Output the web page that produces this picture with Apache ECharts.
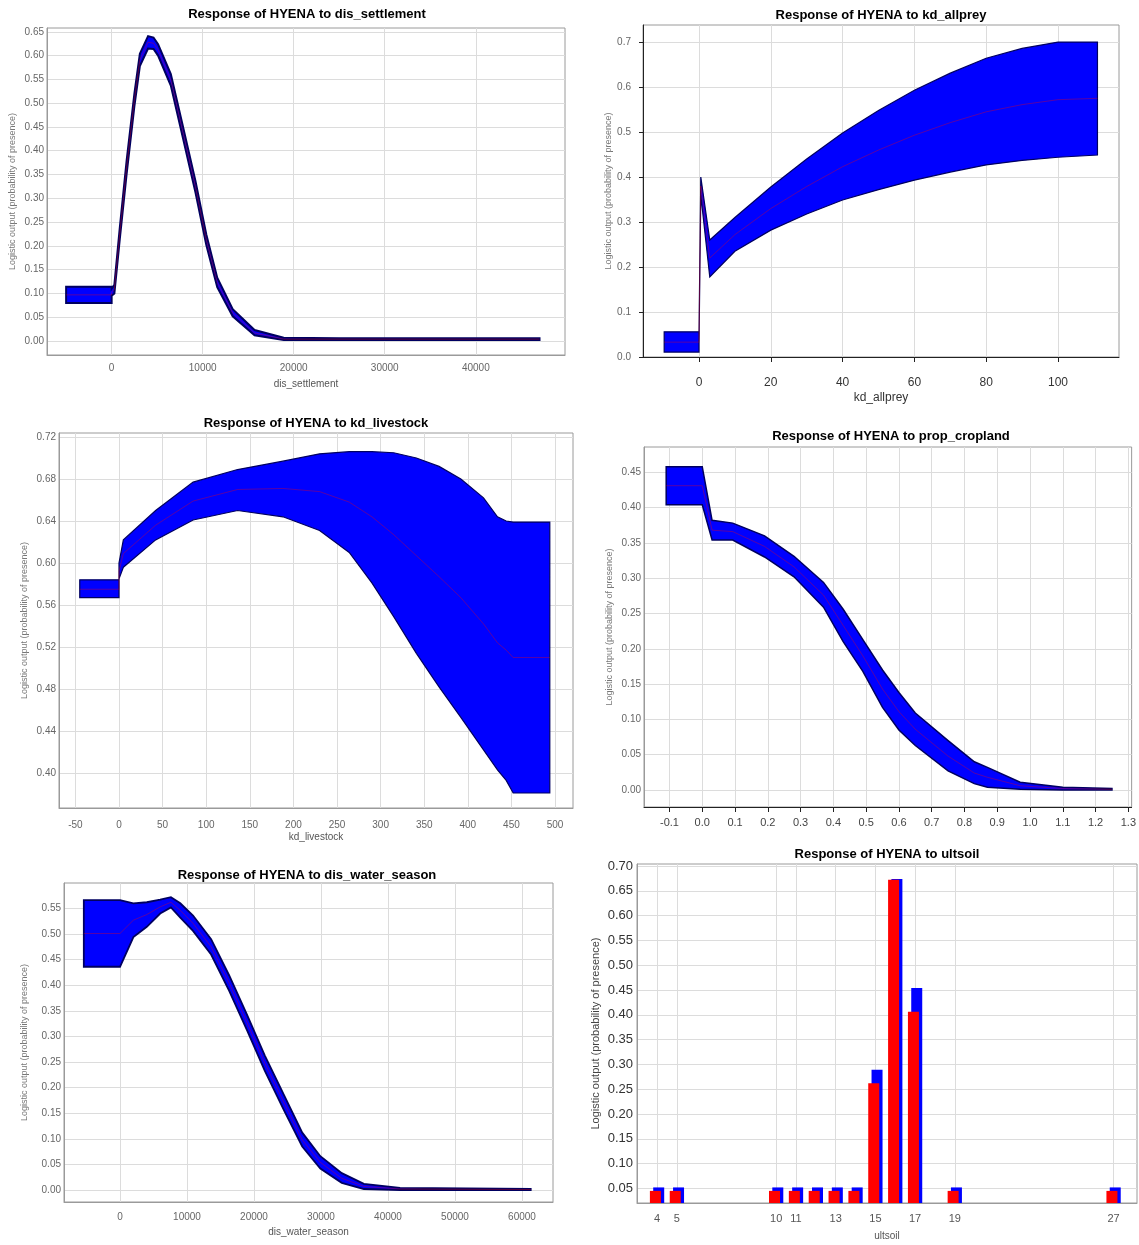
<!DOCTYPE html>
<html><head><meta charset="utf-8">
<script src="https://cdn.jsdelivr.net/npm/echarts@6/dist/echarts.min.js"></script>
<style>html,body{margin:0;padding:0;background:#fff}#c{width:1139px;height:1245px}</style>
</head><body><div id="c"></div>
<script>
// ---------- Panel 1: dis_settlement ----------
var p1X     = [-5000, 0, 0, 300, 900, 1650, 2500, 3100, 4000, 4600, 5100, 6500, 7700, 9200, 10400, 11600, 13300, 15700, 18900, 25000, 47000];
var p1Lower = [0.080, 0.080, 0.095, 0.100, 0.215, 0.352, 0.494, 0.578, 0.615, 0.614, 0.600, 0.537, 0.438, 0.313, 0.202, 0.113, 0.052, 0.012, 0.002, 0.002, 0.002];
var p1Upper = [0.114, 0.114, 0.110, 0.118, 0.239, 0.380, 0.520, 0.604, 0.641, 0.638, 0.624, 0.561, 0.462, 0.337, 0.224, 0.133, 0.067, 0.023, 0.007, 0.006, 0.006];
var p1Mean  = [0.097, 0.097, 0.102, 0.109, 0.227, 0.366, 0.507, 0.591, 0.628, 0.626, 0.612, 0.549, 0.450, 0.325, 0.213, 0.123, 0.059, 0.017, 0.004, 0.004, 0.004];
var p1XTicks = [0, 10000, 20000, 30000, 40000];
var p1YTicks = [0, 0.05, 0.10, 0.15, 0.20, 0.25, 0.30, 0.35, 0.40, 0.45, 0.50, 0.55, 0.60, 0.65];

// ---------- Panel 2: kd_allprey ----------
var p2X     = [-9.7, 0, 0, 0.5, 3, 10, 20, 30, 40, 50, 60, 70, 80, 90, 100, 111];
var p2Lower = [0.011, 0.011, 0.030, 0.360, 0.178, 0.235, 0.282, 0.318, 0.349, 0.372, 0.393, 0.411, 0.427, 0.437, 0.444, 0.449];
var p2Upper = [0.056, 0.056, 0.050, 0.400, 0.260, 0.310, 0.378, 0.440, 0.498, 0.548, 0.593, 0.631, 0.664, 0.686, 0.700, 0.700];
var p2Mean  = [0.033, 0.033, 0.040, 0.380, 0.220, 0.272, 0.330, 0.379, 0.423, 0.460, 0.493, 0.521, 0.545, 0.561, 0.572, 0.575];
var p2XTicks = [0, 20, 40, 60, 80, 100];
var p2YTicks = [0, 0.1, 0.2, 0.3, 0.4, 0.5, 0.6, 0.7];

// ---------- Panel 3: kd_livestock ----------
var p3X     = [-45, 0, 0, 5, 42, 85, 136, 188, 230, 264, 290, 315, 341, 367, 392, 418, 434, 444, 452, 494];
var p3Upper = [0.584, 0.584, 0.600, 0.622, 0.650, 0.677, 0.689, 0.697, 0.704, 0.706, 0.706, 0.705, 0.700, 0.692, 0.680, 0.662, 0.644, 0.640, 0.639, 0.639];
var p3Lower = [0.567, 0.567, 0.585, 0.596, 0.622, 0.641, 0.650, 0.644, 0.631, 0.610, 0.581, 0.549, 0.514, 0.482, 0.453, 0.422, 0.403, 0.393, 0.381, 0.381];
var p3Mean  = [0.575, 0.575, 0.592, 0.609, 0.636, 0.659, 0.670, 0.671, 0.668, 0.658, 0.644, 0.627, 0.607, 0.587, 0.567, 0.542, 0.524, 0.517, 0.510, 0.510];
var p3XTicks = [-50, 0, 50, 100, 150, 200, 250, 300, 350, 400, 450, 500];
var p3YTicks = [0.40, 0.44, 0.48, 0.52, 0.56, 0.60, 0.64, 0.68, 0.72];

// ---------- Panel 4: prop_cropland ----------
var p4X     = [-0.11, 0.0, 0.03, 0.093, 0.19, 0.28, 0.37, 0.43, 0.49, 0.55, 0.60, 0.65, 0.75, 0.83, 0.87, 0.97, 1.10, 1.25];
var p4Upper = [0.458, 0.458, 0.382, 0.378, 0.360, 0.331, 0.294, 0.256, 0.213, 0.170, 0.138, 0.109, 0.070, 0.040, 0.032, 0.011, 0.004, 0.002];
var p4Lower = [0.404, 0.404, 0.354, 0.354, 0.330, 0.302, 0.259, 0.210, 0.168, 0.117, 0.085, 0.063, 0.027, 0.009, 0.004, 0.001, 0.000, 0.000];
var p4Mean  = [0.431, 0.431, 0.368, 0.366, 0.345, 0.316, 0.276, 0.233, 0.190, 0.143, 0.111, 0.086, 0.048, 0.024, 0.018, 0.006, 0.002, 0.001];
var p4XTicks = [-0.1, 0.0, 0.1, 0.2, 0.3, 0.4, 0.5, 0.6, 0.7, 0.8, 0.9, 1.0, 1.1, 1.2, 1.3];
var p4YTicks = [0, 0.05, 0.10, 0.15, 0.20, 0.25, 0.30, 0.35, 0.40, 0.45];

// ---------- Panel 5: dis_water_season ----------
var p5X     = [-5400, 0, 2000, 4000, 6000, 7600, 9000, 10900, 13600, 16300, 19000, 21600, 24500, 27200, 29900, 33100, 36400, 41800, 61300];
var p5Upper = [0.566, 0.566, 0.560, 0.562, 0.567, 0.572, 0.560, 0.536, 0.490, 0.419, 0.341, 0.263, 0.185, 0.112, 0.066, 0.033, 0.012, 0.004, 0.002];
var p5Lower = [0.436, 0.436, 0.494, 0.514, 0.540, 0.552, 0.532, 0.506, 0.460, 0.389, 0.311, 0.233, 0.155, 0.085, 0.042, 0.014, 0.002, 0.000, 0.000];
var p5Mean  = [0.501, 0.501, 0.527, 0.538, 0.553, 0.562, 0.546, 0.521, 0.475, 0.404, 0.326, 0.248, 0.170, 0.098, 0.054, 0.023, 0.007, 0.002, 0.001];
var p5XTicks = [0, 10000, 20000, 30000, 40000, 50000, 60000];
var p5YTicks = [0, 0.05, 0.10, 0.15, 0.20, 0.25, 0.30, 0.35, 0.40, 0.45, 0.50, 0.55];

// ---------- Panel 6: ultsoil (categorical) ----------
var p6Classes = [4, 5, 10, 11, 12, 13, 14, 15, 16, 17, 19, 27];
var p6Mean    = [0.045, 0.045, 0.045, 0.045, 0.045, 0.045, 0.045, 0.262, 0.672, 0.406, 0.045, 0.045];
var p6Upper   = [0.052, 0.052, 0.052, 0.052, 0.052, 0.052, 0.052, 0.289, 0.674, 0.454, 0.052, 0.052];
var p6XTicks  = [4, 5, 10, 11, 13, 15, 17, 19, 27];
var p6YTicks  = [0.05, 0.10, 0.15, 0.20, 0.25, 0.30, 0.35, 0.40, 0.45, 0.50, 0.55, 0.60, 0.65, 0.70];

var titles = [
  {text: 'Response of HYENA to dis_settlement', x: 307, y: 14},
  {text: 'Response of HYENA to kd_allprey', x: 881, y: 15},
  {text: 'Response of HYENA to kd_livestock', x: 316, y: 423},
  {text: 'Response of HYENA to prop_cropland', x: 891, y: 436},
  {text: 'Response of HYENA to dis_water_season', x: 307, y: 875},
  {text: 'Response of HYENA to ultsoil', x: 887, y: 854}
];
var yName = 'Logistic output (probability of presence)';

var FONT = '"Liberation Sans", Arial, sans-serif';

var chart = echarts.init(document.getElementById('c'), null, {renderer: 'canvas'});

function gridCfg(l, t, w, h) {
  return {left: l, top: t, width: w, height: h, show: true, borderColor: '#9a9a9a', borderWidth: 1, backgroundColor: '#fff', containLabel: false};
}
var grids = [
  gridCfg(47, 28, 518, 327),
  gridCfg(643, 25, 476, 332),
  gridCfg(59, 433, 514, 375),
  gridCfg(644, 447, 494, 360),
  gridCfg(64, 883, 489, 319),
  gridCfg(637, 864, 500, 339)
];

function xAx(i, min, max, ticks, fmt, opt) {
  opt = opt || {};
  return {
    type: 'value', gridIndex: i, min: min, max: max,
    name: opt.name || '', nameLocation: 'middle', nameGap: opt.nameGap || 25,
    nameTextStyle: {fontFamily: FONT, fontSize: opt.nameSize || 10, color: opt.nameColor || '#555'},
    axisLine: {show: true, onZero: false, lineStyle: {color: opt.lineColor || '#9a9a9a', width: 1}},
    axisTick: {show: !!opt.ticks, inside: false, length: 5, customValues: ticks, lineStyle: {color: '#222'}},
    axisLabel: {customValues: ticks, formatter: fmt, fontFamily: FONT, fontSize: opt.fontSize || 10,
                color: opt.labelColor || '#666', margin: opt.margin || 8, showMinLabel: true, showMaxLabel: true},
    splitLine: {show: true, lineStyle: {color: '#dcdcdc', width: 1}}
  };
}
function yAx(i, min, max, ticks, fmt, opt) {
  opt = opt || {};
  return {
    type: 'value', gridIndex: i, min: min, max: max,
    name: yName, nameLocation: 'middle', nameRotate: 90, nameGap: opt.nameGap || 30,
    nameTextStyle: {fontFamily: FONT, fontSize: opt.nameSize || 9, color: opt.nameColor || '#777'},
    axisLine: {show: true, onZero: false, lineStyle: {color: opt.lineColor || '#9a9a9a', width: 1}},
    axisTick: {show: !!opt.ticks, length: 4, customValues: ticks, lineStyle: {color: '#222'}},
    axisLabel: {customValues: ticks, formatter: fmt, fontFamily: FONT, fontSize: opt.fontSize || 10,
                color: opt.labelColor || '#666', margin: opt.margin || 4, showMinLabel: true, showMaxLabel: true},
    splitLine: {show: true, lineStyle: {color: '#dcdcdc', width: 1}}
  };
}
function f2(v) { return (+v).toFixed(2); }
function f1(v) { return (+v).toFixed(1); }
function f0(v) { return String(Math.round(v)); }

var xAxes = [
  xAx(0, -7100, 49800, p1XTicks, f0, {name: 'dis_settlement', nameGap: 24, margin: 8}),
  xAx(1, -15.6, 117, p2XTicks, f0, {name: 'kd_allprey', nameGap: 35, margin: 20, ticks: true, lineColor: '#222', labelColor: '#333', fontSize: 12, nameSize: 12, nameColor: '#333'}),
  xAx(2, -68.8, 520.6, p3XTicks, f0, {name: 'kd_livestock', nameGap: 24, margin: 12}),
  xAx(3, -0.1777, 1.31, p4XTicks, f1, {name: '', margin: 10, ticks: true, lineColor: '#222', labelColor: '#444', fontSize: 11}),
  xAx(4, -8358, 64627, p5XTicks, f0, {name: 'dis_water_season', nameGap: 25, margin: 10}),
  xAx(5, 2.99, 28.18, p6XTicks, f0, {name: 'ultsoil', nameGap: 28, margin: 10, labelColor: '#555', fontSize: 11})
];
var yAxes = [
  yAx(0, -0.0294, 0.658, p1YTicks, f2, {nameGap: 30, margin: 3}),
  yAx(1, 0, 0.738, p2YTicks, f1, {nameGap: 28, margin: 12, ticks: true, lineColor: '#222', labelColor: '#666'}),
  yAx(2, 0.3667, 0.7238, p3YTicks, f2, {nameGap: 30, margin: 3}),
  yAx(3, -0.0241, 0.4858, p4YTicks, f2, {nameGap: 30, margin: 3}),
  yAx(4, -0.0234, 0.5996, p5YTicks, f2, {nameGap: 35, margin: 3}),
  yAx(5, 0.0206, 0.704, p6YTicks, f2, {nameGap: 36, margin: 4, fontSize: 13, labelColor: '#333', nameSize: 11, nameColor: '#444'})
];

function bandSeries(i, xs, lo, up, mean, edgeW) {
  var data = xs.map(function (x, k) { return [x, lo[k], up[k]]; });
  return [
    {
      type: 'custom', xAxisIndex: i, yAxisIndex: i, data: data, z: 2,
      encode: {x: 0, y: [1, 2]}, silent: true, clip: true,
      renderItem: function (params, api) {
        if (params.dataIndex !== 0) return null;
        var pts = [];
        for (var k = 0; k < xs.length; k++) pts.push(api.coord([xs[k], up[k]]));
        for (var m = xs.length - 1; m >= 0; m--) pts.push(api.coord([xs[m], lo[m]]));
        return {type: 'polygon', shape: {points: pts},
                style: {fill: '#0000ff', stroke: '#000060', lineWidth: edgeW}};
      }
    },
    {
      type: 'line', xAxisIndex: i, yAxisIndex: i, z: 4, symbol: 'none', silent: true,
      data: xs.map(function (x, k) { return [x, mean[k]]; }),
      lineStyle: {color: '#ff0000', width: 1, opacity: 0.35}
    }
  ];
}

var series = [].concat(
  bandSeries(0, p1X, p1Lower, p1Upper, p1Mean, 2),
  bandSeries(1, p2X, p2Lower, p2Upper, p2Mean, 1.2),
  bandSeries(2, p3X, p3Lower, p3Upper, p3Mean, 1.2),
  bandSeries(3, p4X, p4Lower, p4Upper, p4Mean, 1.5),
  bandSeries(4, p5X, p5Lower, p5Upper, p5Mean, 1.8),
  [
    {
      type: 'bar', xAxisIndex: 5, yAxisIndex: 5, barWidth: 11, barGap: '-70%', z: 4,
      data: p6Classes.map(function (c, k) { return [c, p6Mean[k]]; }),
      itemStyle: {color: '#ff0000'}
    },
    {
      type: 'bar', xAxisIndex: 5, yAxisIndex: 5, barWidth: 11, barGap: '-70%', z: 3,
      data: p6Classes.map(function (c, k) { return [c, p6Upper[k]]; }),
      itemStyle: {color: '#0000ff'}
    }
  ]
);

var graphics = titles.map(function (t) {
  return {type: 'text', x: t.x, y: t.y, z: 100,
          style: {text: t.text, textAlign: 'center', textVerticalAlign: 'middle',
                  font: 'bold 13px ' + FONT, fill: '#000'}};
});

chart.setOption({
  animation: false,
  backgroundColor: '#fff',
  grid: grids,
  xAxis: xAxes,
  yAxis: yAxes,
  series: series,
  graphic: graphics
});
</script></body></html>
